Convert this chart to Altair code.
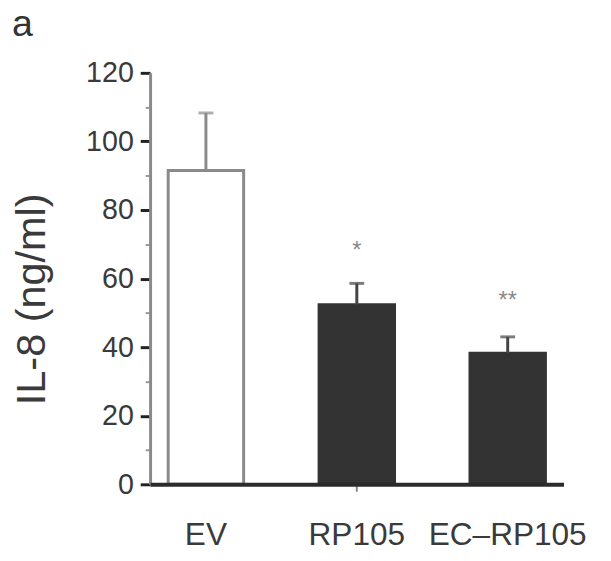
import altair as alt
import pandas as pd

groups = ["EV", "RP105", "EC–RP105"]
means = [91.5, 52.4, 38.2]
upper = [108.3, 58.6, 43.0]
kinds = ["control", "treated", "treated"]
sig_marks = ["", "*", "**"]
sig_y = [None, 68.0, 53.3]
panel_label = ["a"]

df = pd.DataFrame({"group": groups, "mean": means, "upper": upper,
                   "kind": kinds, "sig": sig_marks, "sig_y": sig_y})

FONT = "Liberation Sans"
TXT = "#3a3a3a"

x_axis = alt.Axis(title=None, labelAngle=0, labelFontSize=32, labelFont=FONT,
                  labelColor=TXT, labelPadding=29, tickSize=7, tickWidth=2,
                  tickColor="#888888",
                  tickOpacity={"expr": "datum.value === 'RP105' ? 1 : 0"},
                  domainColor="#2b2b2b", domainWidth=4, zindex=2)
x = alt.X("group:N", sort=groups,
          scale=alt.Scale(paddingInner=0.5, paddingOuter=0.12), axis=x_axis)

y_axis = alt.Axis(title="IL-8 (ng/ml)", values=list(range(0, 121, 10)),
                  labelExpr="datum.value % 20 === 0 ? datum.label : ''",
                  labelFontSize=29, labelFont=FONT, labelColor=TXT, labelPadding=7,
                  tickSize={"expr": "datum.value % 20 === 0 ? 10 : 5"},
                  tickWidth={"expr": "datum.value % 20 === 0 ? 3 : 2"},
                  tickColor={"expr": "datum.value % 20 === 0 ? '#222222' : '#999999'"},
                  domainColor="#8a8a8a", domainWidth=3, grid=False,
                  titleFont=FONT, titleFontSize=42, titleFontWeight="normal",
                  titleColor=TXT, titleX=-107, titleY=229, titleAngle=270,
                  titleBaseline="alphabetic", titleAlign="center")
yscale = alt.Scale(domain=[0, 120], nice=False)

base = alt.Chart(df)

bars = base.mark_bar(strokeWidth=3).encode(
    x=x,
    y=alt.Y("mean:Q", scale=yscale, axis=y_axis),
    fill=alt.Fill("kind:N", scale=alt.Scale(domain=["control", "treated"],
                                            range=["#ffffff", "#333333"]), legend=None),
    stroke=alt.Stroke("kind:N", scale=alt.Scale(domain=["control", "treated"],
                                                range=["#8a8a8a", "#333333"]), legend=None),
)

err_color = alt.Color("kind:N", scale=alt.Scale(domain=["control", "treated"],
                                                range=["#8a8a8a", "#444444"]), legend=None)

err = base.mark_rule(strokeWidth=3).encode(
    x=x,
    y=alt.Y("mean:Q", scale=yscale, axis=y_axis),
    y2="upper:Q",
    color=err_color,
)

caps = base.mark_tick(thickness=3, size=15).encode(
    x=x,
    y=alt.Y("upper:Q", scale=yscale, axis=y_axis),
    color=err_color,
)

stars = base.transform_filter("datum.sig != ''").mark_text(
    fontSize=24, color="#8a8a8a", baseline="middle", font=FONT
).encode(
    x=x,
    y=alt.Y("sig_y:Q", scale=yscale, axis=y_axis),
    text="sig:N",
)

panel = alt.Chart(pd.DataFrame({"panel": panel_label})).mark_text(
    fontSize=38, font=FONT, color="#333333", align="left", baseline="alphabetic"
).encode(text="panel:N", x=alt.value(-140), y=alt.value(-37))

chart = alt.layer(bars, err, caps, stars, panel).properties(
    width=419, height=417,
    autosize=alt.AutoSizeParams(type="none"),
    padding={"left": 144, "top": 62, "right": 40, "bottom": 75},
).configure_view(stroke=None)

chart.save("out.html", embed_options={"renderer": "svg", "actions": False})
